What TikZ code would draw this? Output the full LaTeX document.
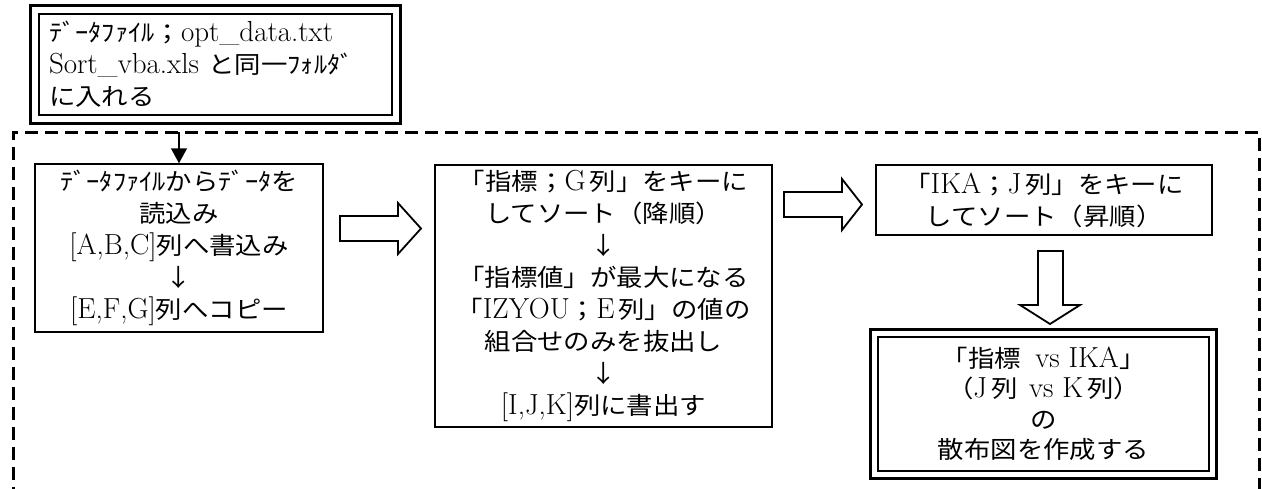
\documentclass[tikz,border=0pt]{standalone}
\usepackage{fontspec}
\newfontfamily\jp[FakeStretch=1.1]{Noto Sans CJK JP}
\usetikzlibrary{arrows.meta}
\newcommand\J[1]{{\jp\fontsize{24}{32}\selectfont #1}}
\begin{document}
\begin{tikzpicture}[x=1pt,y=-1pt,
  box/.style={draw,line width=1.5pt,align=center,inner sep=0pt,font=\fontsize{29}{32}\selectfont},
  outerline/.style={line width=3pt},
  hollow/.style={draw,line width=1.8pt,line join=miter,fill=white},
  dashbox/.style={line width=3pt,dash pattern=on 13pt off 7pt},
  feed/.style={line width=1.5pt,-{Triangle[width=16pt,length=15pt]}}]
\clip (0,0) rectangle (1262,488);
\fill[white] (0,0) rectangle (1262,488);
% dashed frame
\draw[dashbox] (13,500) -- (13,132) -- (1259,132) -- (1259,500);
\coordinate (dtop) at (179,132);
% top box
\node[box,align=left,inner xsep=10pt,text width=333pt,minimum height=101pt] (top) at (215.5,64.5)
  {\J{ﾃﾞｰﾀﾌｧｲﾙ；}opt\_data.txt\\
   Sort\_vba.xls \J{と同一ﾌｫﾙﾀﾞ}\\
   \J{に入れる}};
\draw[outerline] ([xshift=-7.5pt,yshift=7.5pt]top.north west) rectangle ([xshift=7.5pt,yshift=-7.5pt]top.south east);
% box 1
\node[box,minimum width=288pt,minimum height=168pt] (b1) at (179,248)
  {\J{ﾃﾞｰﾀﾌｧｲﾙからﾃﾞｰﾀを}\\
   \J{読込み}\\
   {[}A,B,C{]}\J{列へ書込み}\\
   \J{↓}\\
   {[}E,F,G{]}\J{列へコピー}};
% box 2
\node[box,minimum width=337pt,minimum height=262pt] (b2) at (603.5,296)
  {\J{「指標；}G\J{\,列」をキーに}\\
   \J{してソート（降順）}\\
   \J{↓}\\
   \J{「指標値」が最大になる}\\
   \J{「}IZYOU\J{；}E\J{\,列」の値の}\\
   \J{組合せのみを抜出し}\\
   \J{↓}\\
   {[}I,J,K{]}\J{列に書出す}};
% box 3
\node[box,minimum width=336pt,minimum height=70pt] (b3) at (1044,200)
  {\J{「}IKA\J{；}J\J{\,列」をキーに}\\
   \J{してソート（昇順）}};
% box 4
\node[box,minimum width=331pt,minimum height=134pt,font=\fontsize{29}{30.5}\selectfont] (b4) at (1043.5,404)
  {\J{「指標}\hspace{0.5em}vs IKA\J{」}\\
   \J{（}J\J{\,列}\hspace{0.4em}vs K\J{\,列）}\\
   \J{の}\\
   \J{散布図を作成する}};
\draw[outerline] ([xshift=-6.5pt,yshift=6.5pt]b4.north west) rectangle ([xshift=6.5pt,yshift=-6.5pt]b4.south east);
% feed arrow
\draw[feed] (dtop) -- (b1.north);
% hollow arrows
\draw[hollow] (340,216) -- (398,216) -- (398,203) -- (421,228.5) -- (398,254) -- (398,241) -- (340,241) -- cycle;
\draw[hollow] (784,192) -- (842,192) -- (842,179) -- (862,204.5) -- (842,230) -- (842,217) -- (784,217) -- cycle;
\draw[hollow] (1038,251) -- (1063,251) -- (1063,305) -- (1080,305) -- (1050,324) -- (1020,305) -- (1038,305) -- cycle;
\end{tikzpicture}
\end{document}
